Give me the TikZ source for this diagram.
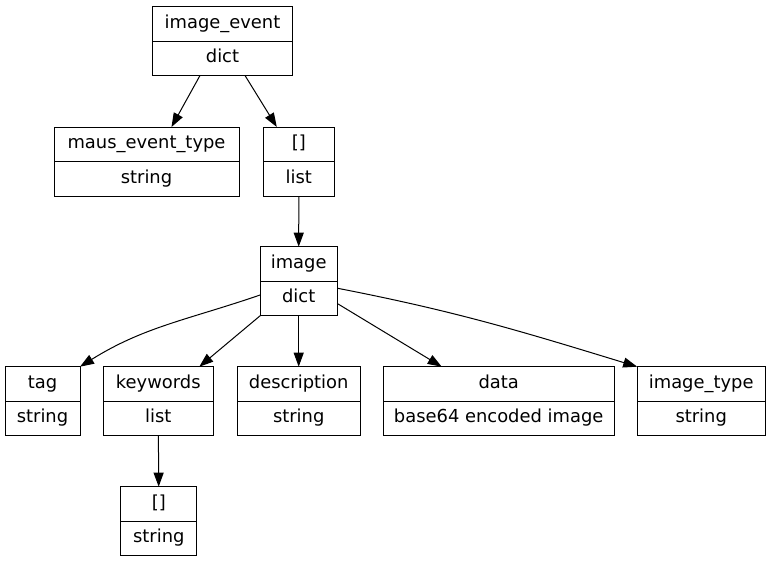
\documentclass[tikz,border=0pt]{standalone}
\usepackage{fontspec}
\setmainfont{DejaVu Sans}
\usetikzlibrary{arrows.meta,positioning}
\tikzset{
  rec/field/.style={draw, line width=1pt, minimum height=34.5pt, inner xsep=0pt, inner ysep=0pt, outer sep=0pt,
    font=\fontsize{17.9}{20}\selectfont, text height=13pt, text depth=4pt, align=center},
  rec/type/.style={rec/field, below=0pt of #1},
  rec/edge/.style={line width=1pt, -{Triangle[length=14pt,width=10pt]}}
}

\begin{document}
\begin{tikzpicture}
\useasboundingbox (0,0) rectangle (771pt,-563pt);
% records: name row, then type row below it
\node[rec/field, minimum width=140pt, anchor=north] (ie) at (222.5pt,-6.5pt) {image\_event};
\node[rec/type=ie, minimum width=140pt] (ieT) {dict};
\node[rec/field, minimum width=185pt, anchor=north] (met) at (146.5pt,-127pt) {maus\_event\_type};
\node[rec/type=met, minimum width=185pt] (metT) {string};
\node[rec/field, minimum width=71pt, anchor=north] (lst) at (298.8pt,-127pt) {[]};
\node[rec/type=lst, minimum width=71pt] (lstT) {list};
\node[rec/field, minimum width=77pt, anchor=north] (img) at (298.7pt,-246.7pt) {image};
\node[rec/type=img, minimum width=77pt] (imgT) {dict};
\node[rec/field, minimum width=75pt, anchor=north] (tag) at (42.5pt,-366.7pt) {tag};
\node[rec/type=tag, minimum width=75pt] (tagT) {string};
\node[rec/field, minimum width=110pt, anchor=north] (kw) at (158.3pt,-366.7pt) {keywords};
\node[rec/type=kw, minimum width=110pt] (kwT) {list};
\node[rec/field, minimum width=123pt, anchor=north] (desc) at (298.7pt,-366.7pt) {description};
\node[rec/type=desc, minimum width=123pt] (descT) {string};
\node[rec/field, minimum width=230.7pt, anchor=north] (data) at (498.7pt,-366.7pt) {data};
\node[rec/type=data, minimum width=230.7pt] (dataT) {base64 encoded image};
\node[rec/field, minimum width=128pt, anchor=north] (imty) at (701.2pt,-366.7pt) {image\_type};
\node[rec/type=imty, minimum width=128pt] (imtyT) {string};
\node[rec/field, minimum width=75.7pt, anchor=north] (elem) at (158.8pt,-486.7pt) {[]};
\node[rec/type=elem, minimum width=75.7pt] (elemT) {string};
% edges
\draw[rec/edge] ([xshift=-22.5pt]ieT.south) -- ([xshift=25pt]met.north);
\draw[rec/edge] ([xshift=22.5pt]ieT.south) -- ([xshift=-22pt]lst.north);
\draw[rec/edge] (lstT) -- (img);
\draw[rec/edge] ([yshift=3.5pt]imgT.west) to[out=199, in=32] (tag.north east);
\draw[rec/edge] (imgT.south west) -- ([xshift=41pt]kw.north);
\draw[rec/edge] (imgT) -- (desc);
\draw[rec/edge] ([yshift=-5pt]imgT.east) -- ([xshift=-57pt]data.north);
\draw[rec/edge] ([yshift=-7pt]imgT.north east) to[out=-11, in=163] (imty.north west);
\draw[rec/edge] (kwT) -- (elem);
\end{tikzpicture}
\end{document}
